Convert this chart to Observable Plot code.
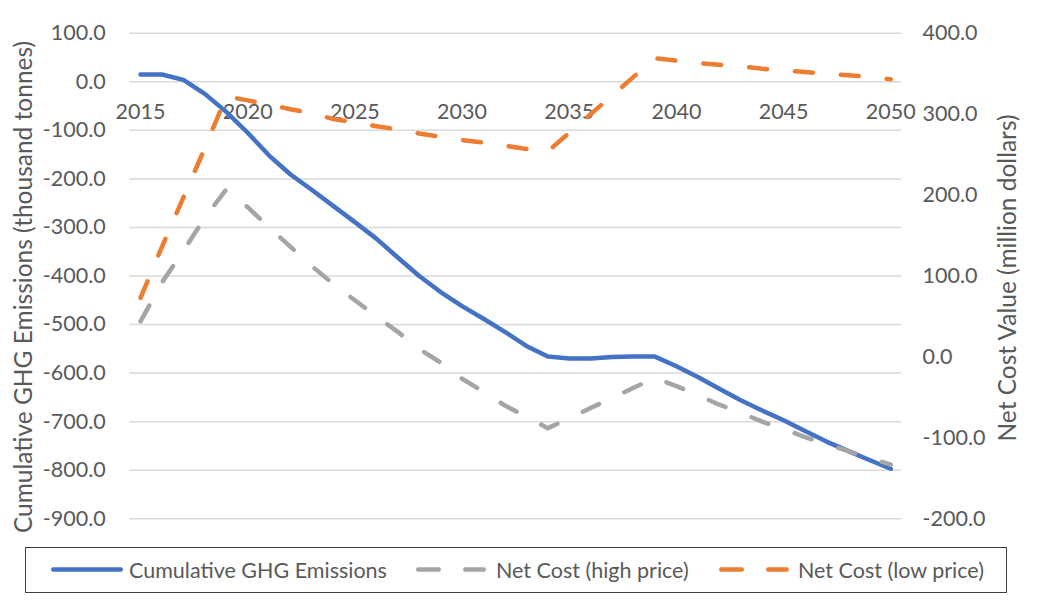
<!DOCTYPE html>
<html><head><meta charset="utf-8">
<script src="https://cdn.jsdelivr.net/npm/d3@7"></script>
<script src="https://cdn.jsdelivr.net/npm/@observablehq/plot@0.6"></script>
<style>
html,body{margin:0;padding:0;background:#fff;}
#wrap{position:relative;width:1049px;height:603px;font-family:Lato,"Open Sans",sans-serif;color:#595959;}
#legend{position:absolute;left:25px;top:547px;width:982px;height:46px;border:1.5px solid #404040;box-sizing:border-box;}
.item{position:absolute;top:0;height:100%;display:flex;align-items:center;font-size:21.5px;white-space:nowrap;}
.sw{position:absolute;top:0;height:100%;}
</style></head><body><div id="wrap"><div id="chart"></div><div id="legend"></div></div>
<script>
const years = [2015,2016,2017,2018,2019,2020,2021,2022,2023,2024,2025,2026,2027,2028,2029,2030,2031,2032,2033,2034,2035,2036,2037,2038,2039,2040,2041,2042,2043,2044,2045,2046,2047,2048,2049,2050];
const cumulativeGHG = [15,15,4,-25,-62,-105,-152,-191,-223,-256,-289,-323,-362,-400,-433,-462,-488,-515,-544,-566,-570,-570,-567,-566,-566,-586,-608,-632,-656,-677,-697,-719,-741,-760,-779,-797];
const netCostHigh = [44,92,131,172,207,185,160,136,112,90,70,50,31,10,-7,-27,-43,-60,-74,-88,-76,-63,-51,-38,-26,-36,-47,-59,-69,-80,-89,-99,-108,-116,-125,-133];
const netCostLow = [73,136,197,258,322,317,312,306,301,294,290,285,281,276,272,268,265,261,257,254,277,300,323,346,369,366,363,361,359,356,354,352,350,348,346,343];
const leftTicks = [-900,-800,-700,-600,-500,-400,-300,-200,-100,0,100];
const rightTicks = [-200,-100,0,100,200,300,400];
const xTickYears = [2015,2020,2025,2030,2035,2040,2045,2050];
const leftTitle = "Cumulative GHG Emissions (thousand tonnes)";
const rightTitle = "Net Cost Value (million dollars)";
const seriesNames = ["Cumulative GHG Emissions","Net Cost (high price)","Net Cost (low price)"];
const seriesColors = ["#4472C4","#A5A5A5","#ED7D31"];

const toLeft = d3.scaleLinear().domain([-200,400]).range([-900,100]);
const rowsBlue = years.map((y,i)=>({year:y, value:cumulativeGHG[i]}));
const rowsGrey = years.map((y,i)=>({year:y, value:toLeft(netCostHigh[i])}));
const rowsOrange = years.map((y,i)=>({year:y, value:toLeft(netCostLow[i])}));
const TXT = "#595959";
const FS = 21.5;
const TFS = 24.5;
const dash = "18,28";

const chart = Plot.plot({
  width:1049, height:540,
  marginTop:32.7, marginBottom:21.7, marginLeft:129.3, marginRight:148,
  x:{type:"linear", domain:[2014.5,2050.5], axis:null},
  y:{domain:[-900,100], axis:null},
  style:{fontFamily:"Lato, 'Open Sans', sans-serif", fontSize:FS+"px", color:TXT, background:"white", overflow:"visible"},
  marks:[
    Plot.ruleY(leftTicks, {stroke:"#d9d9d9", strokeWidth:1.5}),
    Plot.axisY(leftTicks, {anchor:"left", tickSize:0, tickPadding:24, tickFormat:d=>d.toFixed(1), fontSize:FS, fill:TXT, label:null}),
    Plot.axisY(rightTicks.map(toLeft), {anchor:"right", tickSize:0, tickPadding:21, tickFormat:d=>Math.round(toLeft.invert(d)).toFixed(1), fontSize:FS, fill:TXT, label:null}),
    Plot.text(xTickYears, {x:d=>d, y:()=>0, dy:30, text:d=>String(d), fontSize:FS, fill:TXT}),
    Plot.line(rowsBlue, {x:"year", y:"value", stroke:seriesColors[0], strokeWidth:4.5, strokeLinecap:"round", strokeLinejoin:"round"}),
    Plot.line(rowsGrey, {x:"year", y:"value", stroke:seriesColors[1], strokeWidth:4.5, strokeLinecap:"round", strokeLinejoin:"round", strokeDasharray:dash}),
    Plot.line(rowsOrange, {x:"year", y:"value", stroke:seriesColors[2], strokeWidth:4.5, strokeLinecap:"round", strokeLinejoin:"round", strokeDasharray:dash}),
    Plot.text([leftTitle], {frameAnchor:"left", textAnchor:"middle", rotate:-90, dx:-106, dy:11, fontSize:TFS, fill:TXT}),
    Plot.text([rightTitle], {frameAnchor:"right", textAnchor:"middle", rotate:-90, dx:107, dy:2, fontSize:TFS, fill:TXT})
  ]
});
document.getElementById("chart").appendChild(chart);

// legend
const legend = document.getElementById("legend");
const swatchLeft = [25, 390, 693];
const textLeft = [103, 470, 772];
seriesNames.forEach((name,i)=>{
  const sw = document.createElementNS("http://www.w3.org/2000/svg","svg");
  sw.setAttribute("class","sw");
  sw.setAttribute("width","72");
  sw.setAttribute("height","43");
  sw.style.left = swatchLeft[i]+"px";
  const ln = document.createElementNS("http://www.w3.org/2000/svg","line");
  ln.setAttribute("x1","2.25"); ln.setAttribute("x2", i===0 ? "69.75" : "67.75");
  ln.setAttribute("y1","21.5"); ln.setAttribute("y2","21.5");
  ln.setAttribute("stroke", seriesColors[i]);
  ln.setAttribute("stroke-width","4.5");
  ln.setAttribute("stroke-linecap","round");
  if(i>0) ln.setAttribute("stroke-dasharray","20.5,26.5");
  sw.appendChild(ln);
  legend.appendChild(sw);
  const t = document.createElement("div");
  t.className = "item";
  t.style.left = textLeft[i]+"px";
  t.textContent = name;
  legend.appendChild(t);
});
</script></body></html>
